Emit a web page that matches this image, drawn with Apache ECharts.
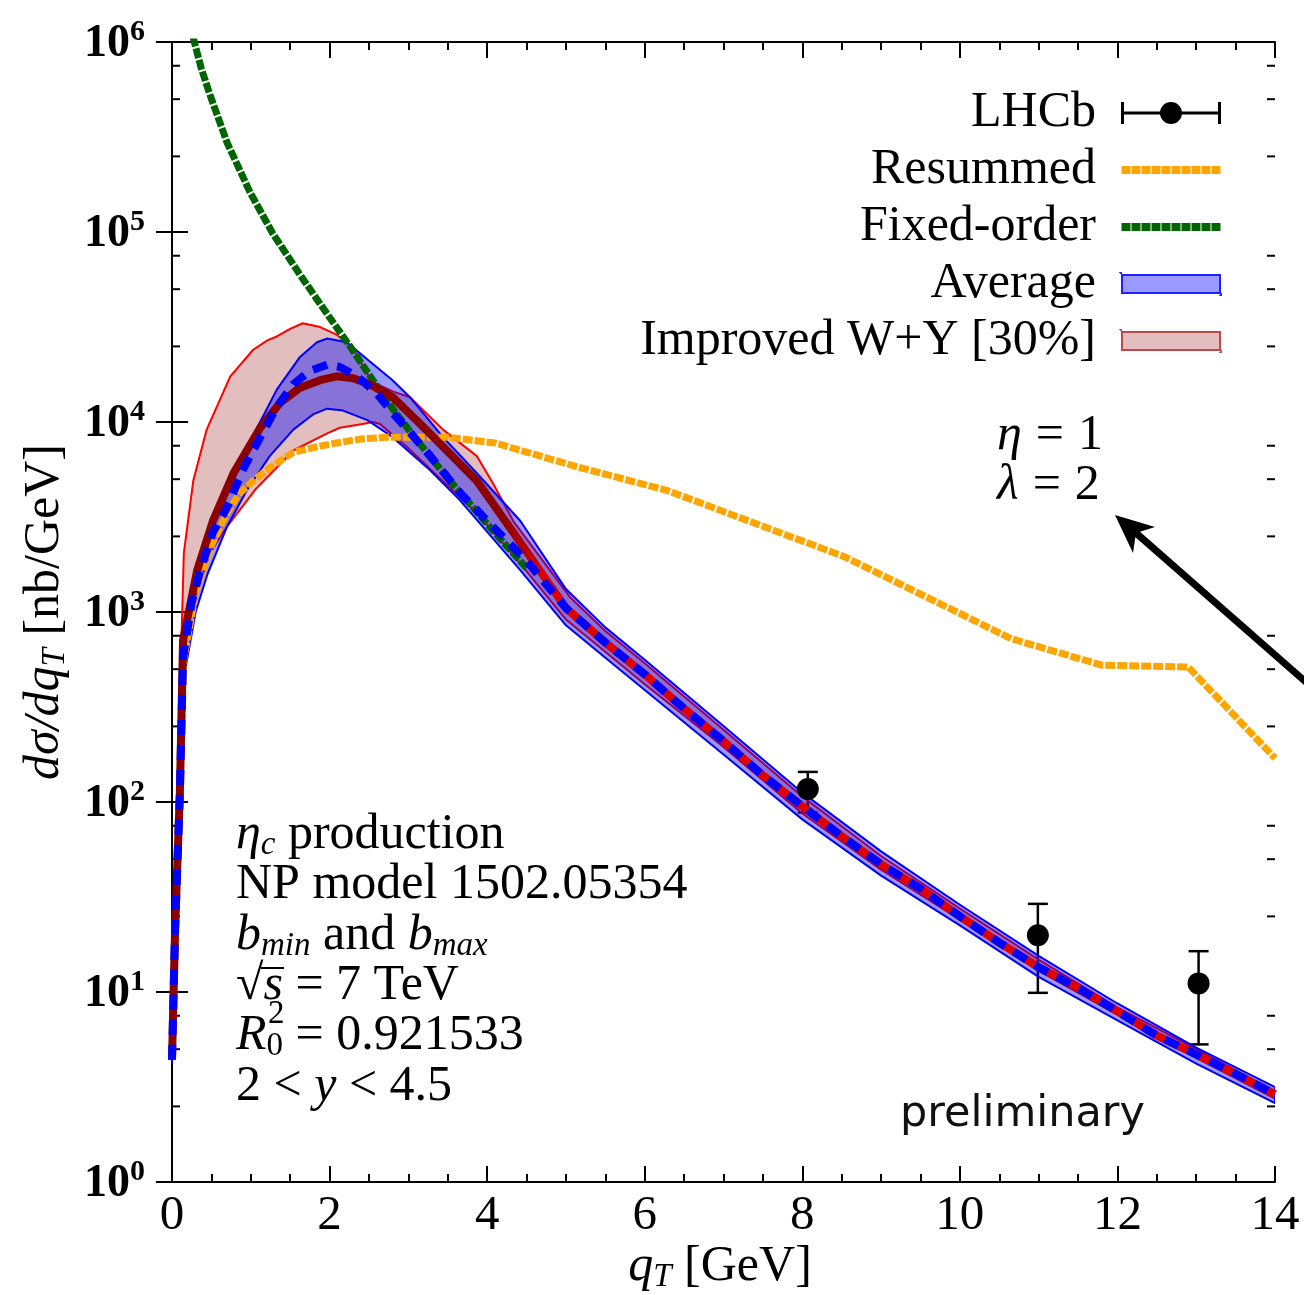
<!DOCTYPE html>
<html>
<head>
<meta charset="utf-8">
<script src="https://cdn.jsdelivr.net/npm/echarts@6/dist/echarts.min.js"></script>
<style>html,body{margin:0;padding:0;background:#fff}#chart{width:1304px;height:1295px}</style>
</head>
<body>
<div id="chart"></div>
<script>
const FONT = '"Liberation Serif", "Times New Roman", serif';

// ---------- data ----------
const xTickValues = [0, 2, 4, 6, 8, 10, 12, 14];
const yDecadeExponents = [0, 1, 2, 3, 4, 5, 6];
const yMinorTicks = [2.5, 5, 7.5, 25, 50, 75, 250, 500, 750, 2500, 5000, 7500,
  25000, 50000, 75000, 250000, 500000, 750000];

// LHCb data points
const lhcbQ = [8.07, 10.99, 13.03];
const lhcbVal = [117, 19.9, 11.1];
const lhcbLow = [88, 9.9, 5.3];
const lhcbHigh = [144, 29.1, 16.4];

// Resummed (orange)
const resQ = [0, 0.05, 0.1, 0.15, 0.3, 0.5, 0.7, 0.85, 1.03, 1.24, 1.54, 1.84, 2.09, 2.39, 2.73, 3.06, 3.49, 4.1, 5.18, 6.28, 8.54, 10.65, 11.8, 12.9, 14];
const resVal = [4.4, 25, 126, 562, 1260, 2240, 3310, 4170, 4900, 5750, 6920, 7410, 7760, 8130, 8320, 8320, 8320, 7760, 5750, 4370, 1950, 724, 525, 513, 170];

// Fixed-order (green)
const foQ = [0.2, 0.27, 0.37, 0.48, 0.7, 0.99, 1.28, 1.62, 1.97, 2.26, 2.55, 2.8, 3.06, 3.31, 3.57, 4.07, 4.5];
const foVal = [2.2e6, 1.05e6, 7.3e5, 5.3e5, 2.95e5, 1.62e5, 9.8e4, 6.0e4, 3.7e4, 2.5e4, 1.66e4, 11750, 8510, 6310, 4680, 2690, 1700];

// Average: central (blue dashed), upper and lower edges of band
const avgQ = [0, 0.04, 0.1, 0.14, 0.25, 0.36, 0.52, 0.7, 0.9, 1.12, 1.33, 1.54, 1.75, 1.97, 2.13, 2.35, 2.6, 2.8, 3.24, 3.65, 4.07, 4.5, 5, 5.5, 6, 6.5, 7, 7.5, 8, 8.5, 9, 9.5, 10, 10.5, 11, 11.5, 12, 12.5, 13, 13.5, 14];
const avgVal = [4.4, 22, 112, 575, 1120, 1660, 2630, 3550, 5620, 8320, 12000, 15800, 18600, 20000, 19500, 17400, 14100, 11200, 6920, 4270, 2820, 1860, 1050, 690, 470, 310, 209, 138, 95, 66, 47, 35, 25, 18.2, 13.5, 10.5, 7.9, 5.9, 4.7, 3.7, 2.9];
const avgUpQ = [0, 0.05, 0.1, 0.14, 0.25, 0.4, 0.6, 0.83, 1.08, 1.33, 1.62, 1.84, 1.97, 2.22, 2.42, 2.8, 3.02, 3.44, 3.87, 4.42, 5, 5.5, 6, 7, 8, 9, 10, 11, 12, 13, 14];
const avgUpVal = [4.6, 32, 141, 630, 1320, 2090, 3550, 5620, 9330, 14800, 21900, 26300, 27500, 26300, 22400, 16600, 13500, 8320, 5370, 3020, 1320, 830, 560, 251, 112, 55, 28.8, 15.5, 8.7, 5.1, 3.16];
const avgLoQ = [0, 0.05, 0.1, 0.17, 0.3, 0.45, 0.7, 0.95, 1.24, 1.54, 1.79, 1.97, 2.17, 2.48, 2.8, 3.24, 3.65, 4.42, 5, 5.5, 6, 7, 8, 9, 10, 11, 12, 13, 14];
const avgLoVal = [4.2, 20, 89, 500, 1000, 1580, 2820, 4370, 6610, 9120, 10960, 11750, 11480, 10230, 8320, 5750, 3890, 1660, 851, 575, 389, 178, 81, 41, 22.4, 12.0, 7.1, 4.2, 2.6];

// Improved W+Y [30%]: central (dark red), upper and lower edges of band
const wyQ = [0, 0.04, 0.1, 0.14, 0.32, 0.52, 0.78, 1.12, 1.37, 1.62, 1.88, 2.09, 2.3, 2.51, 2.8, 3.15, 3.44, 3.87, 4.33, 5, 5.5, 6, 6.5, 7, 7.5, 8, 8.5, 9, 9.5, 10, 10.5, 11, 11.5, 12, 12.5, 13, 13.5, 14];
const wyVal = [4.4, 22, 112, 710, 1660, 3020, 5370, 9330, 12600, 15100, 16600, 17400, 17000, 15800, 13500, 9770, 7410, 4900, 2630, 1050, 690, 470, 310, 209, 138, 95, 66, 47, 35, 25, 18.2, 13.5, 10.5, 7.9, 5.9, 4.7, 3.7, 2.9];
const wyUpQ = [0, 0.05, 0.1, 0.12, 0.15, 0.27, 0.44, 0.74, 1.03, 1.21, 1.33, 1.5, 1.66, 1.88, 2.09, 2.3, 2.47, 2.55, 2.8, 3.02, 3.44, 3.87, 4.07, 4.33, 4.76, 5.05, 5.5, 6, 7, 8, 9, 10, 11, 12, 13, 14];
const wyUpVal = [4.5, 28, 126, 710, 2040, 4900, 9120, 17400, 24000, 26900, 28200, 30900, 33100, 31600, 28800, 24500, 18200, 16200, 14500, 13500, 9120, 6610, 4790, 3020, 1740, 1200, 794, 537, 240, 107, 52, 27.5, 14.8, 8.3, 5.0, 3.0];
const wyLoQ = [0, 0.05, 0.1, 0.15, 0.23, 0.48, 0.7, 1.07, 1.54, 1.97, 2.13, 2.42, 2.55, 2.64, 2.98, 3.36, 3.87, 4.33, 5, 6, 7, 8, 9, 10, 11, 12, 13, 14];
const wyLoVal = [4.3, 22, 100, 560, 980, 2040, 2820, 4470, 7080, 8710, 9330, 9770, 10000, 9770, 7410, 5250, 3310, 2000, 912, 417, 195, 87, 44, 24, 12.9, 7.6, 4.5, 2.75];

// ---------- helpers ----------
function pairs(qs, vs) { return qs.map((q, i) => [q, vs[i]]); }

function bandSeries(name, upQ, upV, loQ, loV, fill, stroke) {
  return {
    type: 'custom', name: name, coordinateSystem: 'cartesian2d', clip: true, silent: true,
    data: [[upQ[0], upV[0]]], encode: { x: 0, y: 1 },
    itemStyle: { color: fill, borderColor: stroke, borderWidth: 2 },
    renderItem: function (params, api) {
      const pts = [];
      for (let i = 0; i < upQ.length; i++) pts.push(api.coord([upQ[i], upV[i]]));
      for (let i = loQ.length - 1; i >= 0; i--) pts.push(api.coord([loQ[i], loV[i]]));
      return { type: 'polygon', shape: { points: pts }, style: { fill: fill, stroke: stroke, lineWidth: 2, lineJoin: 'round' } };
    }
  };
}

// legend icon: dashed thick line (10 dashes) inside a 100x22 box
function dashIconPath() {
  let p = 'path://M0,0 L0.02,0 L0.02,0.02 Z M99.98,22 L100,22 L100,21.98 Z';
  for (let k = 0; k < 10; k++) {
    const x0 = k * 10 + 0.5;
    p += ' M' + x0 + ',7 L' + (x0 + 9) + ',7 L' + (x0 + 9) + ',15 L' + x0 + ',15 Z';
  }
  return p;
}
function rectIconPath() {
  return 'path://M0,0 L0.02,0 L0.02,0.02 Z M99.98,22 L100,22 L100,21.98 Z M1,2 L99,2 L99,20 L1,20 Z';
}

const chart = echarts.init(document.getElementById('chart'));

const TS = 50;
const RICH = {
  n: { fontFamily: FONT, fontSize: TS, lineHeight: 52, verticalAlign: 'top', fill: '#000', color: '#000' },
  i: { fontFamily: FONT, fontSize: TS, fontStyle: 'italic', lineHeight: 52, verticalAlign: 'top', fill: '#000', color: '#000' },
  eq: { fontFamily: FONT, fontSize: TS, lineHeight: 52, verticalAlign: 'top', fill: '#000', color: '#000', padding: [0, 14, 0, 14] },
  s: { fontFamily: FONT, fontSize: 33, fontStyle: 'italic', lineHeight: 33, verticalAlign: 'bottom', fill: '#000', color: '#000' },
  sn: { fontFamily: FONT, fontSize: 33, lineHeight: 33, verticalAlign: 'bottom', fill: '#000', color: '#000' }
};

function textEl(x, y, text, extra) {
  return Object.assign({
    type: 'text', x: x, y: y, z: 100,
    style: { text: text, rich: RICH, verticalAlign: 'top', align: 'left', fill: '#000' }
  }, extra || {});
}

const lhcbIcon = 'path://M0,0 L3,0 L3,9.5 L97,9.5 L97,0 L100,0 L100,22 L97,22 L97,12.5 L3,12.5 L3,22 L0,22 Z M39,11 A11,11 0 1,1 61,11 A11,11 0 1,1 39,11 Z';

const wyGradient = new echarts.graphic.LinearGradient(0, 0, 1, 0, [
  { offset: 0, color: '#8b0000' }, { offset: 0.3, color: '#8b0000' },
  { offset: 0.34, color: '#e00000' }, { offset: 1, color: '#e00000' }
]);

const axisLineStyle = { color: '#000', width: 2 };

const option = {
  animation: false,
  backgroundColor: '#fff',
  grid: { left: 172, top: 42, right: 29, bottom: 113, containLabel: false },
  xAxis: [
    {
      type: 'value', min: 0, max: 14, interval: 2, position: 'bottom',
      axisLine: { show: true, lineStyle: axisLineStyle },
      axisTick: { show: true, inside: true, length: 16, lineStyle: axisLineStyle },
      minorTick: { show: true, splitNumber: 4, length: 8, lineStyle: axisLineStyle },
      splitLine: { show: false }, minorSplitLine: { show: false },
      axisLabel: {
        fontFamily: FONT, fontSize: 49, color: '#000', margin: 10,
        formatter: v => (xTickValues.indexOf(v) >= 0 ? String(v) : '')
      }
    },
    {
      type: 'value', min: 0, max: 14, interval: 2, position: 'top',
      axisLine: { show: true, lineStyle: axisLineStyle },
      axisTick: { show: true, inside: true, length: 16, lineStyle: axisLineStyle },
      minorTick: { show: true, splitNumber: 4, length: 8, lineStyle: axisLineStyle },
      splitLine: { show: false }, axisLabel: { show: false }
    }
  ],
  yAxis: [
    {
      type: 'log', logBase: 10, min: 1, max: 1e6, splitNumber: 6, position: 'left',
      axisLine: { show: true, lineStyle: axisLineStyle },
      axisTick: { show: true, inside: true, length: 16, lineStyle: axisLineStyle },
      splitLine: { show: false },
      axisLabel: {
        margin: 27,
        formatter: v => {
          const e = Math.round(Math.log10(v));
          return yDecadeExponents.indexOf(e) >= 0 ? '{b|10}{e|' + e + '}' : '';
        },
        rich: {
          b: { fontFamily: FONT, fontSize: 46, fontWeight: 'bold', lineHeight: 50, verticalAlign: 'bottom', color: '#000' },
          e: { fontFamily: FONT, fontSize: 30, fontWeight: 'bold', lineHeight: 30, verticalAlign: 'top', color: '#000' }
        }
      }
    },
    {
      type: 'log', logBase: 10, min: 1, max: 1e6, splitNumber: 6, position: 'right',
      axisLine: { show: true, lineStyle: axisLineStyle },
      axisTick: { show: true, inside: true, length: 16, lineStyle: axisLineStyle },
      splitLine: { show: false }, axisLabel: { show: false }
    }
  ],
  legend: {
    orient: 'vertical', align: 'right', right: 82, top: 88, padding: 0,
    itemWidth: 100, itemHeight: 22, itemGap: 7, selectedMode: false,
    textStyle: { fontFamily: FONT, fontSize: 50, color: '#000', padding: [0, 20, 0, 0] },
    data: [
      { name: 'LHCb', icon: lhcbIcon, itemStyle: { color: '#000' } },
      { name: 'Resummed', icon: dashIconPath(), itemStyle: { color: '#ffa500', borderWidth: 0 } },
      { name: 'Fixed-order', icon: dashIconPath(), itemStyle: { color: '#006400', borderWidth: 0 } },
      { name: 'Average', icon: rectIconPath(), itemStyle: { color: 'rgba(0,0,255,0.4)', borderColor: '#2020ff', borderWidth: 2 } },
      { name: 'Improved W+Y [30%]', icon: rectIconPath(), itemStyle: { color: 'rgba(150,20,20,0.28)', borderColor: '#c04848', borderWidth: 2 } }
    ]
  },
  series: [
    {
      type: 'custom', name: 'LHCb', silent: true,
      data: lhcbQ.map((q, i) => [q, lhcbVal[i], lhcbLow[i], lhcbHigh[i]]), encode: { x: 0, y: 1 },
      itemStyle: { color: '#000' },
      renderItem: function (params, api) {
        const q = api.value(0);
        const top = api.coord([q, api.value(3)]);
        const bot = api.coord([q, api.value(2)]);
        const hw = 10, st = { stroke: '#000', lineWidth: 2.5 };
        return {
          type: 'group', children: [
            { type: 'line', shape: { x1: top[0], y1: top[1], x2: bot[0], y2: bot[1] }, style: st },
            { type: 'line', shape: { x1: top[0] - hw, y1: top[1], x2: top[0] + hw, y2: top[1] }, style: st },
            { type: 'line', shape: { x1: bot[0] - hw, y1: bot[1], x2: bot[0] + hw, y2: bot[1] }, style: st }
          ]
        };
      }
    },
    {
      type: 'scatter', name: 'LHCb', data: pairs(lhcbQ, lhcbVal), symbol: 'circle', symbolSize: 22,
      itemStyle: { color: '#000', opacity: 1 }, silent: true
    },
    {
      type: 'line', name: 'Resummed', data: pairs(resQ, resVal), symbol: 'none', showSymbol: false, color: '#ffa500',
      lineStyle: { color: '#ffa500', width: 7, type: [10, 2], cap: 'butt' }, silent: true
    },
    {
      type: 'line', name: 'Fixed-order', data: pairs(foQ, foVal), symbol: 'none', showSymbol: false, color: '#006400',
      lineStyle: { color: '#006400', width: 7, type: [10, 2], cap: 'butt' }, silent: true
    },
    bandSeries('Improved W+Y [30%]', wyUpQ, wyUpVal, wyLoQ, wyLoVal, 'rgba(150,20,20,0.28)', '#ff0000'),
    bandSeries('Average', avgUpQ, avgUpVal, avgLoQ, avgLoVal, 'rgba(0,0,255,0.4)', '#0000ff'),
    {
      type: 'line', name: 'W+Y central', data: pairs(wyQ, wyVal), symbol: 'none', showSymbol: false, color: '#8b0000',
      lineStyle: { color: wyGradient, width: 8, cap: 'butt' }, silent: true
    },
    {
      type: 'line', name: 'Average central', data: pairs(avgQ, avgVal), symbol: 'none', showSymbol: false, color: '#0000ff',
      lineStyle: { color: '#0000ff', width: 8, type: [15, 10], cap: 'butt' }, silent: true
    },
    {
      type: 'custom', name: 'minor y ticks', silent: true, clip: false,
      data: yMinorTicks.map(v => [0, v]), encode: { x: 0, y: 1 },
      renderItem: function (params, api) {
        const v = api.value(1);
        const pl = api.coord([0, v]);
        const pr = api.coord([14, v]);
        const st = { stroke: '#000', lineWidth: 2 };
        return {
          type: 'group', children: [
            { type: 'line', shape: { x1: pl[0], y1: pl[1], x2: pl[0] + 8, y2: pl[1] }, style: st },
            { type: 'line', shape: { x1: pr[0], y1: pr[1], x2: pr[0] - 8, y2: pr[1] }, style: st }
          ]
        };
      }
    }
  ],
  graphic: [
    // axis titles
    {
      type: 'text', x: 46, y: 612, rotation: Math.PI / 2, z: 100,
      style: { text: '{i|dσ/dq}{s|T}{n| [nb/GeV]}', rich: RICH, align: 'center', verticalAlign: 'middle' }
    },
    {
      type: 'text', x: 720, y: 1268, z: 100,
      style: { text: '{i|q}{s|T}{n| [GeV]}', rich: RICH, align: 'center', verticalAlign: 'middle' }
    },
    // info block
    textEl(236, 810, '{i|η}{s|c}{n| production}'),
    textEl(236, 860, '{n|NP model 1502.05354}'),
    textEl(236, 911, '{i|b}{s|min}{n| and }{i|b}{s|max}'),
    textEl(236, 961, '{n|√}{i|s}{n| = 7 TeV}'),
    { type: 'line', z: 100, shape: { x1: 261, y1: 968, x2: 284, y2: 968 }, style: { stroke: '#000', lineWidth: 2 } },
    textEl(236, 1011, '{i|R}{sn|0}{n| = 0.921533}'),
    textEl(268, 998, '{sn|2}'),
    textEl(236, 1062, '{n|2 < }{i|y}{n| < 4.5}'),
    // eta / lambda
    textEl(997, 411, '{i|η}{eq|=}{n|1}'),
    textEl(997, 461, '{i|λ}{eq|=}{n|2}'),
    // arrow
    { type: 'line', z: 100, shape: { x1: 1136, y1: 533, x2: 1340, y2: 712 }, style: { stroke: '#000', lineWidth: 7 } },
    { type: 'polygon', z: 100, shape: { points: [[1115, 515], [1155, 527], [1136, 533], [1133, 553]] }, style: { fill: '#000' } },
    // preliminary
    {
      type: 'text', x: 900, y: 1115, z: 100,
      style: { text: 'preliminary', font: '43px "DejaVu Sans", sans-serif', fill: '#111', align: 'left', verticalAlign: 'middle' }
    }
  ]
};

chart.setOption(option);
</script>
</body>
</html>
